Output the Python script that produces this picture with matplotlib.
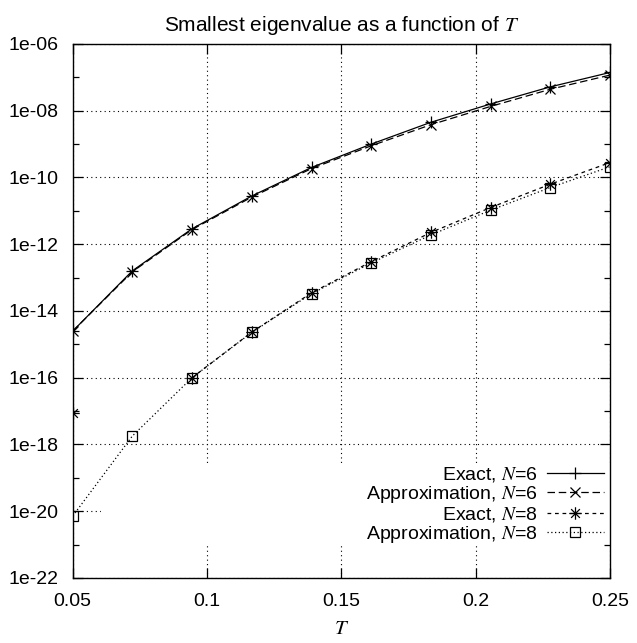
import numpy as np
import matplotlib
matplotlib.use("Agg")
import matplotlib.pyplot as plt
from matplotlib.path import Path
from matplotlib.patches import Rectangle

plt.rcParams['font.family'] = ['Liberation Sans', 'DejaVu Sans']
plt.rcParams['mathtext.fontset'] = 'stix'

T = [0.05, 0.0722, 0.0944, 0.1167, 0.1389, 0.1611, 0.1833, 0.2056, 0.2278, 0.25]
exact_n6 = [2.5e-15, 1.6e-13, 2.9e-12, 2.8e-11, 2.0e-10, 1.0e-9, 4.5e-9, 1.6e-8, 5.2e-8, 1.4e-7]
approx_n6 = [2.5e-15, 1.5e-13, 2.75e-12, 2.6e-11, 1.85e-10, 8.9e-10, 3.8e-9, 1.35e-8, 4.4e-8, 1.17e-7]
exact_n8 = [8.7e-18, np.nan, 1.0e-16, 2.35e-15, 3.5e-14, 3.0e-13, 2.25e-12, 1.26e-11, 6.3e-11, 2.8e-10]
approx_n8 = [7.2e-21, 1.8e-18, 1.0e-16, 2.3e-15, 3.3e-14, 2.75e-13, 1.9e-12, 1.05e-11, 5.0e-11, 2.1e-10]

xticks = [0.05, 0.1, 0.15, 0.2, 0.25]
xticklabels = ["0.05", "0.1", "0.15", "0.2", "0.25"]
yticks = [1e-22, 1e-20, 1e-18, 1e-16, 1e-14, 1e-12, 1e-10, 1e-8, 1e-6]
yticklabels = ["1e-22", "1e-20", "1e-18", "1e-16", "1e-14", "1e-12", "1e-10", "1e-08", "1e-06"]
yminor = [1e-21, 1e-19, 1e-17, 1e-15, 1e-13, 1e-11, 1e-9, 1e-7]

star = Path([(-1, 0), (1, 0), (0, -1), (0, 1), (-0.7, -0.7), (0.7, 0.7), (-0.7, 0.7), (0.7, -0.7)],
            [Path.MOVETO, Path.LINETO] * 4)

FS = 14
LFS = 14

fig = plt.figure(figsize=(6.37, 6.43), dpi=100)
ax = fig.add_axes([0.1142, 0.1011, 0.8434, 0.8305])
ax.set_yscale('log')
ax.set_xlim(0.05, 0.25)
ax.set_ylim(1e-22, 1e-6)

lw = 0.9
ax.plot(T, exact_n6, color='black', lw=lw, ls='-', marker='+', ms=9, mew=0.9,
        label='Exact, $N$=6', zorder=3)
ax.plot(T, approx_n6, color='black', lw=lw, ls=(0, (6, 3)), marker='x', ms=7, mew=0.9,
        label='Approximation, $N$=6', zorder=3)
ax.plot(T, exact_n8, color='black', lw=lw, ls=(0, (3, 3)), marker=star, ms=9, mew=0.9,
        label='Exact, $N$=8', zorder=3)
ax.plot(T, approx_n8, color='black', lw=lw, ls=(0, (1, 2)), marker='s', ms=7, mew=0.9,
        mfc='none', label='Approximation, $N$=8', zorder=3)

ax.set_xticks(xticks)
ax.set_xticklabels(xticklabels)
ax.set_yticks(yticks)
ax.set_yticklabels(yticklabels)
ax.set_yticks(yminor, minor=True)
ax.yaxis.set_minor_formatter(matplotlib.ticker.NullFormatter())
ax.xaxis.set_minor_locator(matplotlib.ticker.NullLocator())
ax.tick_params(which='both', direction='in', top=True, right=True, labelsize=FS, width=0.9, color='black')
ax.tick_params(which='major', length=7)
ax.tick_params(axis='y', which='major', pad=10)
ax.tick_params(axis='x', which='major', pad=11)
ax.tick_params(which='minor', length=4)
ax.grid(True, which='major', color='black', ls=(0, (1, 3)), lw=0.8)
ax.set_axisbelow(True)
for s in ax.spines.values():
    s.set_linewidth(1.0)

# white box behind legend that hides the grid
ax.add_patch(Rectangle((0.052, 0.066), 0.948, 0.144, transform=ax.transAxes,
                       facecolor='white', edgecolor='none', zorder=1))

leg = ax.legend(loc='lower right', bbox_to_anchor=(0.988, 0.062), markerfirst=False,
                frameon=False, fontsize=LFS, handlelength=2.9, handletextpad=0.45,
                labelspacing=0.0, borderaxespad=0.0, borderpad=0.0)
leg.set_zorder(5)

ax.set_title('Smallest eigenvalue as a function of $T$', fontsize=15, pad=9)
ax.set_xlabel('$T$', fontsize=FS + 1, labelpad=6)

fig.savefig('out.png', dpi=100)
